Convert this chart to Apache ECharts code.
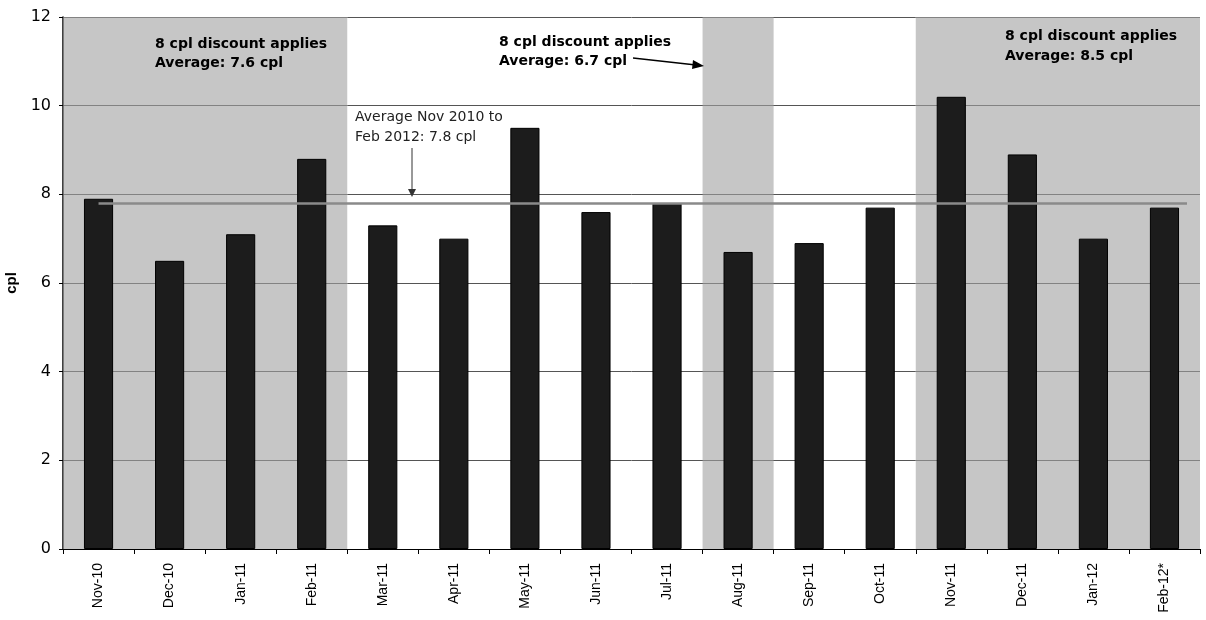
<!DOCTYPE html>
<html>
<head>
<meta charset="utf-8">
<script src="https://cdn.jsdelivr.net/npm/echarts@6/dist/echarts.min.js"></script>
<style>html,body{margin:0;padding:0;background:#fff}#c{width:1206px;height:620px}</style>
</head>
<body>
<div id="c"></div>
<script>
const categories = ['Nov-10','Dec-10','Jan-11','Feb-11','Mar-11','Apr-11','May-11','Jun-11','Jul-11','Aug-11','Sep-11','Oct-11','Nov-11','Dec-11','Jan-12','Feb-12*'];
const values = [7.9, 6.5, 7.1, 8.8, 7.3, 7.0, 9.5, 7.6, 7.8, 6.7, 6.9, 7.7, 10.2, 8.9, 7.0, 7.7];
const overallAverage = 7.8;
const shadedRanges = [['Nov-10','Feb-11'],['Aug-11','Aug-11'],['Nov-11','Feb-12*']];
const yTicks = {min: 0, max: 12, interval: 2};

const FONT = '"Liberation Sans", Arial, sans-serif';
const WIDE = '"DejaVu Sans", sans-serif';
const chart = echarts.init(document.getElementById('c'), null, {renderer: 'canvas'});

const option = {
  backgroundColor: '#ffffff',
  animation: false,
  textStyle: {fontFamily: FONT},
  grid: {left: 63, right: 6, top: 17, bottom: 71, containLabel: false, outerBoundsMode: 'none'},
  xAxis: {
    type: 'category',
    data: categories,
    axisLine: {lineStyle: {color: '#000', width: 1}},
    axisTick: {show: true, lineStyle: {color: '#000'}, length: 5},
    axisLabel: {rotate: 90, color: '#000', fontSize: 14, fontFamily: FONT, margin: 14}
  },
  yAxis: {
    type: 'value',
    min: yTicks.min, max: yTicks.max, interval: yTicks.interval,
    name: 'cpl',
    nameLocation: 'middle',
    nameGap: 42,
    nameRotate: 90,
    nameTextStyle: {fontWeight: 'bold', fontSize: 15, color: '#000', fontFamily: FONT},
    axisLine: {show: true, lineStyle: {color: '#000', width: 1.5}},
    axisTick: {show: true, inside: false, length: 4, lineStyle: {color: '#000'}},
    axisLabel: {color: '#000', fontSize: 16, fontFamily: WIDE, margin: 12},
    splitLine: {show: true, lineStyle: {color: '#555', width: 1}}
  },
  series: [{
    type: 'bar',
    data: values,
    barWidth: '41%',
    itemStyle: {color: '#1c1c1c', borderColor: '#000', borderWidth: 1},
    markArea: {
      silent: true,
      itemStyle: {color: 'rgba(160,160,160,0.6)'},
      data: shadedRanges.map(r => [{xAxis: r[0]}, {xAxis: r[1]}])
    },
    markLine: {
      silent: true,
      symbol: ['none','none'],
      label: {show: false},
      lineStyle: {color: '#8a8a8a', width: 2.5, type: 'solid'},
      data: [[{coord: [0, overallAverage]}, {coord: [15, overallAverage], x: 1187}]]
    },
    z: 3
  }],
  graphic: [
    {type: 'text', left: 155, top: 35, z: 10, style: {text: '8 cpl discount applies\nAverage: 7.6 cpl', font: 'bold 14px ' + WIDE, fill: '#000', lineHeight: 19}},
    {type: 'text', left: 499, top: 33, z: 10, style: {text: '8 cpl discount applies\nAverage: 6.7 cpl', font: 'bold 14px ' + WIDE, fill: '#000', lineHeight: 19}},
    {type: 'text', left: 1005, top: 26, z: 10, style: {text: '8 cpl discount applies\nAverage: 8.5 cpl', font: 'bold 14px ' + WIDE, fill: '#000', lineHeight: 20}},
    {type: 'text', left: 355, top: 107, z: 10, style: {text: 'Average Nov 2010 to\nFeb 2012: 7.8 cpl', font: '14px ' + WIDE, fill: '#222', lineHeight: 20}},
    {type: 'line', z: 10, shape: {x1: 633, y1: 58, x2: 696, y2: 65}, style: {stroke: '#000', lineWidth: 1.5}},
    {type: 'polygon', z: 10, shape: {points: [[704, 66], [693, 60], [692, 69]]}, style: {fill: '#000'}},
    {type: 'line', z: 10, shape: {x1: 412, y1: 148, x2: 412, y2: 192}, style: {stroke: '#333', lineWidth: 1}},
    {type: 'polygon', z: 10, shape: {points: [[412, 197], [408, 189], [416, 189]]}, style: {fill: '#333'}}
  ]
};
chart.setOption(option);
</script>
</body>
</html>
